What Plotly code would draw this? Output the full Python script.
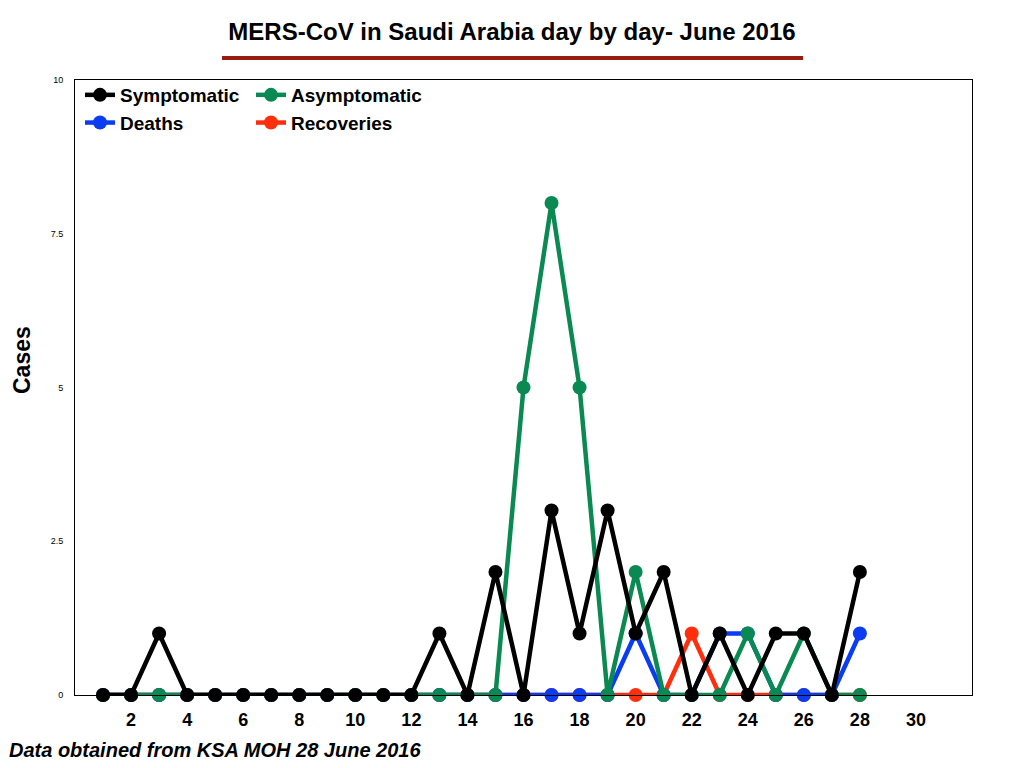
import plotly.graph_objects as go

days = list(range(1, 29))
symptomatic = [0, 0, 1, 0, 0, 0, 0, 0, 0, 0, 0, 0, 1, 0, 2, 0, 3, 1, 3, 1, 2, 0, 1, 0, 1, 1, 0, 2]
asymptomatic = [0, 0, 0, 0, 0, 0, 0, 0, 0, 0, 0, 0, 0, 0, 0, 5, 8, 5, 0, 2, 0, 0, 0, 1, 0, 1, 0, 0]
deaths = [0, 0, 0, 0, 0, 0, 0, 0, 0, 0, 0, 0, 0, 0, 0, 0, 0, 0, 0, 1, 0, 0, 1, 1, 0, 0, 0, 1]
recoveries = [0, 0, 0, 0, 0, 0, 0, 0, 0, 0, 0, 0, 0, 0, 0, 0, 0, 0, 0, 0, 0, 1, 0, 0, 0, 0, 0, 0]

x_ticks = list(range(2, 31, 2))
x_labels = [str(v) for v in x_ticks]
y_ticks = [0, 2.5, 5, 7.5, 10]
y_labels = ["0", "2.5", "5", "7.5", "10"]

FONT = "Liberation Sans, Arial, Helvetica, sans-serif"
BLACK = "#000000"
GREEN = "#0a8a52"
BLUE = "#0a3cf2"
RED = "#ff2f0e"

L, R, T, B = 75, 52, 80, 73
W, H = 1024, 768
PW = W - L - R
PH = H - T - B


def px_x(p):
    return (p - L) / PW


def px_y(p):
    return (H - B - p) / PH


fig = go.Figure()

series = [
    ("Recoveries", recoveries, RED, "legend2"),
    ("Deaths", deaths, BLUE, "legend"),
    ("Asymptomatic", asymptomatic, GREEN, "legend2"),
    ("Symptomatic", symptomatic, BLACK, "legend"),
]
for name, vals, color, lg in series:
    fig.add_trace(go.Scatter(
        x=days, y=vals, name=name, mode="lines+markers",
        line=dict(color=color, width=4.5),
        marker=dict(color=color, size=14),
        cliponaxis=False, legend=lg,
    ))

legend_common = dict(
    y=px_y(76), xanchor="left", yanchor="top",
    orientation="v", traceorder="reversed",
    font=dict(size=19, family=FONT, color="black", weight="bold"),
    bgcolor="rgba(0,0,0,0)", tracegroupgap=0, itemwidth=30,
)

fig.update_layout(
    width=W, height=H,
    margin=dict(l=L, r=R, t=T, b=B),
    paper_bgcolor="white", plot_bgcolor="white",
    font=dict(family=FONT, color="black"),
    showlegend=True,
    legend=dict(x=px_x(80), **legend_common),
    legend2=dict(x=px_x(251), **legend_common),
    title=dict(
        text="<b>MERS-CoV in Saudi Arabia day by day- June 2016</b>",
        x=0.5, xref="container", xanchor="center",
        y=1 - 32 / H, yref="container", yanchor="middle",
        font=dict(size=24, family=FONT, color="black"),
    ),
)

fig.update_xaxes(
    range=[0, 32], tickvals=x_ticks, ticktext=x_labels,
    showgrid=False, zeroline=False,
    showline=True, linecolor="black", linewidth=1, mirror=True,
    ticks="outside", ticklen=8, tickcolor="rgba(0,0,0,0)",
    tickfont=dict(size=18, family=FONT, color="black", weight="bold"),
)
fig.update_yaxes(
    range=[0, 10], tickvals=y_ticks, ticktext=y_labels,
    showgrid=False, zeroline=False,
    showline=True, linecolor="black", linewidth=1, mirror=True,
    ticks="outside", ticklen=9, tickcolor="rgba(0,0,0,0)",
    tickfont=dict(size=9, family=FONT, color="black"),
)

# title underline
fig.add_shape(
    type="line", xref="paper", yref="paper",
    x0=px_x(222), x1=px_x(803), y0=px_y(58), y1=px_y(58),
    line=dict(color="#9b1b0e", width=4),
)

# y-axis title
fig.add_annotation(
    text="<b>Cases</b>", xref="paper", yref="paper",
    x=px_x(22), y=px_y(360), xanchor="center", yanchor="middle",
    textangle=-90, showarrow=False,
    font=dict(size=23, family=FONT, color="black"),
)

# source note
fig.add_annotation(
    text="<b><i>Data obtained from KSA MOH 28 June 2016</i></b>",
    xref="paper", yref="paper",
    x=px_x(7), y=px_y(750), xanchor="left", yanchor="middle",
    showarrow=False,
    font=dict(size=20, family=FONT, color="black"),
)

fig.write_html(
    "out.html",
    config={"displayModeBar": False},
    post_script="document.body.style.margin='0';",
)
